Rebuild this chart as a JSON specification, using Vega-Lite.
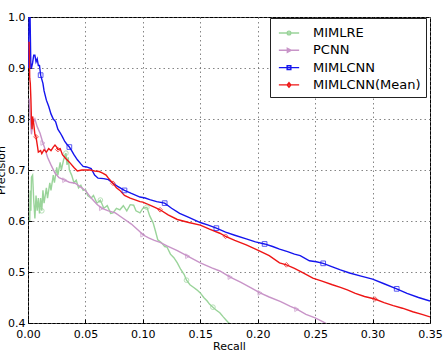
{
  "$schema": "https://vega.github.io/schema/vega-lite/v6.json",
  "width": 402,
  "height": 306,
  "autosize": "none",
  "padding": {"left": 28, "top": 17, "right": 15, "bottom": 31},
  "background": "white",
  "config": {
    "view": {"stroke": "black", "strokeWidth": 1},
    "font": "DejaVu Sans",
    "axis": {
      "labelFont": "DejaVu Sans",
      "titleFont": "DejaVu Sans",
      "labelFontSize": 11,
      "titleFontSize": 11,
      "labelColor": "black",
      "titleColor": "black",
      "titleFontWeight": "normal",
      "domain": false,
      "tickColor": "black",
      "tickSize": -4,
      "gridColor": "#666666",
      "gridDash": [1.5, 3],
      "gridWidth": 1,
      "gridOpacity": 0.8
    }
  },
  "datasets": {
    "curves": [
      {"s": "MIMLRE", "r": 0.0015, "p": 0.60},
      {"s": "MIMLRE", "r": 0.002, "p": 0.66},
      {"s": "MIMLRE", "r": 0.0025, "p": 0.62},
      {"s": "MIMLRE", "r": 0.003, "p": 0.686},
      {"s": "MIMLRE", "r": 0.004, "p": 0.69},
      {"s": "MIMLRE", "r": 0.005, "p": 0.64},
      {"s": "MIMLRE", "r": 0.006, "p": 0.605},
      {"s": "MIMLRE", "r": 0.007, "p": 0.65},
      {"s": "MIMLRE", "r": 0.008, "p": 0.62},
      {"s": "MIMLRE", "r": 0.009, "p": 0.645},
      {"s": "MIMLRE", "r": 0.010, "p": 0.615},
      {"s": "MIMLRE", "r": 0.011, "p": 0.645},
      {"s": "MIMLRE", "r": 0.012, "p": 0.62},
      {"s": "MIMLRE", "r": 0.013, "p": 0.66},
      {"s": "MIMLRE", "r": 0.014, "p": 0.635},
      {"s": "MIMLRE", "r": 0.016, "p": 0.665},
      {"s": "MIMLRE", "r": 0.017, "p": 0.645},
      {"s": "MIMLRE", "r": 0.019, "p": 0.675},
      {"s": "MIMLRE", "r": 0.020, "p": 0.66},
      {"s": "MIMLRE", "r": 0.022, "p": 0.69},
      {"s": "MIMLRE", "r": 0.023, "p": 0.675},
      {"s": "MIMLRE", "r": 0.025, "p": 0.705},
      {"s": "MIMLRE", "r": 0.026, "p": 0.69},
      {"s": "MIMLRE", "r": 0.028, "p": 0.715},
      {"s": "MIMLRE", "r": 0.029, "p": 0.70},
      {"s": "MIMLRE", "r": 0.031, "p": 0.72},
      {"s": "MIMLRE", "r": 0.033, "p": 0.733},
      {"s": "MIMLRE", "r": 0.034, "p": 0.71},
      {"s": "MIMLRE", "r": 0.035, "p": 0.725},
      {"s": "MIMLRE", "r": 0.036, "p": 0.70},
      {"s": "MIMLRE", "r": 0.038, "p": 0.69},
      {"s": "MIMLRE", "r": 0.040, "p": 0.675},
      {"s": "MIMLRE", "r": 0.042, "p": 0.68},
      {"s": "MIMLRE", "r": 0.044, "p": 0.665},
      {"s": "MIMLRE", "r": 0.046, "p": 0.67},
      {"s": "MIMLRE", "r": 0.048, "p": 0.66},
      {"s": "MIMLRE", "r": 0.050, "p": 0.662},
      {"s": "MIMLRE", "r": 0.052, "p": 0.65},
      {"s": "MIMLRE", "r": 0.055, "p": 0.645},
      {"s": "MIMLRE", "r": 0.057, "p": 0.65},
      {"s": "MIMLRE", "r": 0.060, "p": 0.635},
      {"s": "MIMLRE", "r": 0.063, "p": 0.641},
      {"s": "MIMLRE", "r": 0.066, "p": 0.625},
      {"s": "MIMLRE", "r": 0.069, "p": 0.63},
      {"s": "MIMLRE", "r": 0.072, "p": 0.615},
      {"s": "MIMLRE", "r": 0.074, "p": 0.616},
      {"s": "MIMLRE", "r": 0.077, "p": 0.625},
      {"s": "MIMLRE", "r": 0.080, "p": 0.622},
      {"s": "MIMLRE", "r": 0.083, "p": 0.63},
      {"s": "MIMLRE", "r": 0.086, "p": 0.62},
      {"s": "MIMLRE", "r": 0.089, "p": 0.632},
      {"s": "MIMLRE", "r": 0.092, "p": 0.631},
      {"s": "MIMLRE", "r": 0.094, "p": 0.62},
      {"s": "MIMLRE", "r": 0.0975, "p": 0.616},
      {"s": "MIMLRE", "r": 0.100, "p": 0.625},
      {"s": "MIMLRE", "r": 0.1035, "p": 0.627},
      {"s": "MIMLRE", "r": 0.106, "p": 0.61},
      {"s": "MIMLRE", "r": 0.109, "p": 0.596},
      {"s": "MIMLRE", "r": 0.111, "p": 0.58},
      {"s": "MIMLRE", "r": 0.113, "p": 0.563},
      {"s": "MIMLRE", "r": 0.116, "p": 0.558},
      {"s": "MIMLRE", "r": 0.119, "p": 0.55},
      {"s": "MIMLRE", "r": 0.121, "p": 0.549},
      {"s": "MIMLRE", "r": 0.124, "p": 0.535},
      {"s": "MIMLRE", "r": 0.127, "p": 0.528},
      {"s": "MIMLRE", "r": 0.130, "p": 0.518},
      {"s": "MIMLRE", "r": 0.133, "p": 0.505},
      {"s": "MIMLRE", "r": 0.136, "p": 0.495},
      {"s": "MIMLRE", "r": 0.138, "p": 0.484},
      {"s": "MIMLRE", "r": 0.141, "p": 0.475},
      {"s": "MIMLRE", "r": 0.144, "p": 0.47},
      {"s": "MIMLRE", "r": 0.147, "p": 0.465},
      {"s": "MIMLRE", "r": 0.150, "p": 0.459},
      {"s": "MIMLRE", "r": 0.153, "p": 0.45},
      {"s": "MIMLRE", "r": 0.156, "p": 0.443},
      {"s": "MIMLRE", "r": 0.158, "p": 0.437},
      {"s": "MIMLRE", "r": 0.161, "p": 0.431},
      {"s": "MIMLRE", "r": 0.164, "p": 0.425},
      {"s": "MIMLRE", "r": 0.167, "p": 0.42},
      {"s": "MIMLRE", "r": 0.170, "p": 0.412},
      {"s": "MIMLRE", "r": 0.172, "p": 0.407},
      {"s": "MIMLRE", "r": 0.174, "p": 0.402},
      {"s": "MIMLRE", "r": 0.176, "p": 0.398},

      {"s": "PCNN", "r": 0.001, "p": 0.84},
      {"s": "PCNN", "r": 0.002, "p": 0.80},
      {"s": "PCNN", "r": 0.003, "p": 0.77},
      {"s": "PCNN", "r": 0.004, "p": 0.79},
      {"s": "PCNN", "r": 0.006, "p": 0.80},
      {"s": "PCNN", "r": 0.008, "p": 0.785},
      {"s": "PCNN", "r": 0.0105, "p": 0.772},
      {"s": "PCNN", "r": 0.013, "p": 0.753},
      {"s": "PCNN", "r": 0.015, "p": 0.74},
      {"s": "PCNN", "r": 0.017, "p": 0.725},
      {"s": "PCNN", "r": 0.020, "p": 0.71},
      {"s": "PCNN", "r": 0.0235, "p": 0.694},
      {"s": "PCNN", "r": 0.027, "p": 0.685},
      {"s": "PCNN", "r": 0.032, "p": 0.68},
      {"s": "PCNN", "r": 0.036, "p": 0.676},
      {"s": "PCNN", "r": 0.041, "p": 0.674},
      {"s": "PCNN", "r": 0.045, "p": 0.668},
      {"s": "PCNN", "r": 0.050, "p": 0.66},
      {"s": "PCNN", "r": 0.055, "p": 0.645},
      {"s": "PCNN", "r": 0.060, "p": 0.633},
      {"s": "PCNN", "r": 0.064, "p": 0.625},
      {"s": "PCNN", "r": 0.070, "p": 0.62},
      {"s": "PCNN", "r": 0.076, "p": 0.616},
      {"s": "PCNN", "r": 0.083, "p": 0.605},
      {"s": "PCNN", "r": 0.090, "p": 0.594},
      {"s": "PCNN", "r": 0.097, "p": 0.58},
      {"s": "PCNN", "r": 0.100, "p": 0.573},
      {"s": "PCNN", "r": 0.105, "p": 0.567},
      {"s": "PCNN", "r": 0.110, "p": 0.562},
      {"s": "PCNN", "r": 0.115, "p": 0.558},
      {"s": "PCNN", "r": 0.121, "p": 0.551},
      {"s": "PCNN", "r": 0.130, "p": 0.542},
      {"s": "PCNN", "r": 0.139, "p": 0.531},
      {"s": "PCNN", "r": 0.150, "p": 0.518},
      {"s": "PCNN", "r": 0.160, "p": 0.508},
      {"s": "PCNN", "r": 0.167, "p": 0.502},
      {"s": "PCNN", "r": 0.176, "p": 0.49},
      {"s": "PCNN", "r": 0.185, "p": 0.48},
      {"s": "PCNN", "r": 0.195, "p": 0.468},
      {"s": "PCNN", "r": 0.202, "p": 0.459},
      {"s": "PCNN", "r": 0.210, "p": 0.451},
      {"s": "PCNN", "r": 0.220, "p": 0.442},
      {"s": "PCNN", "r": 0.228, "p": 0.433},
      {"s": "PCNN", "r": 0.234, "p": 0.427},
      {"s": "PCNN", "r": 0.242, "p": 0.417},
      {"s": "PCNN", "r": 0.250, "p": 0.41},
      {"s": "PCNN", "r": 0.257, "p": 0.402},
      {"s": "PCNN", "r": 0.262, "p": 0.396},

      {"s": "MIMLCNN", "r": 0.0003, "p": 0.90},
      {"s": "MIMLCNN", "r": 0.001, "p": 1.0},
      {"s": "MIMLCNN", "r": 0.0018, "p": 1.0},
      {"s": "MIMLCNN", "r": 0.0025, "p": 0.90},
      {"s": "MIMLCNN", "r": 0.003, "p": 0.90},
      {"s": "MIMLCNN", "r": 0.004, "p": 0.91},
      {"s": "MIMLCNN", "r": 0.005, "p": 0.925},
      {"s": "MIMLCNN", "r": 0.006, "p": 0.925},
      {"s": "MIMLCNN", "r": 0.007, "p": 0.912},
      {"s": "MIMLCNN", "r": 0.008, "p": 0.918},
      {"s": "MIMLCNN", "r": 0.009, "p": 0.905},
      {"s": "MIMLCNN", "r": 0.010, "p": 0.905},
      {"s": "MIMLCNN", "r": 0.011, "p": 0.886},
      {"s": "MIMLCNN", "r": 0.013, "p": 0.87},
      {"s": "MIMLCNN", "r": 0.014, "p": 0.855},
      {"s": "MIMLCNN", "r": 0.016, "p": 0.837},
      {"s": "MIMLCNN", "r": 0.018, "p": 0.825},
      {"s": "MIMLCNN", "r": 0.020, "p": 0.81},
      {"s": "MIMLCNN", "r": 0.022, "p": 0.80},
      {"s": "MIMLCNN", "r": 0.024, "p": 0.795},
      {"s": "MIMLCNN", "r": 0.026, "p": 0.78},
      {"s": "MIMLCNN", "r": 0.028, "p": 0.773},
      {"s": "MIMLCNN", "r": 0.030, "p": 0.765},
      {"s": "MIMLCNN", "r": 0.032, "p": 0.756},
      {"s": "MIMLCNN", "r": 0.034, "p": 0.75},
      {"s": "MIMLCNN", "r": 0.036, "p": 0.745},
      {"s": "MIMLCNN", "r": 0.038, "p": 0.738},
      {"s": "MIMLCNN", "r": 0.040, "p": 0.73},
      {"s": "MIMLCNN", "r": 0.043, "p": 0.72},
      {"s": "MIMLCNN", "r": 0.046, "p": 0.712},
      {"s": "MIMLCNN", "r": 0.048, "p": 0.707},
      {"s": "MIMLCNN", "r": 0.051, "p": 0.706},
      {"s": "MIMLCNN", "r": 0.055, "p": 0.703},
      {"s": "MIMLCNN", "r": 0.058, "p": 0.69},
      {"s": "MIMLCNN", "r": 0.061, "p": 0.684},
      {"s": "MIMLCNN", "r": 0.066, "p": 0.683},
      {"s": "MIMLCNN", "r": 0.070, "p": 0.681},
      {"s": "MIMLCNN", "r": 0.074, "p": 0.674},
      {"s": "MIMLCNN", "r": 0.078, "p": 0.668},
      {"s": "MIMLCNN", "r": 0.084, "p": 0.66},
      {"s": "MIMLCNN", "r": 0.090, "p": 0.654},
      {"s": "MIMLCNN", "r": 0.0975, "p": 0.647},
      {"s": "MIMLCNN", "r": 0.102, "p": 0.645},
      {"s": "MIMLCNN", "r": 0.106, "p": 0.642},
      {"s": "MIMLCNN", "r": 0.112, "p": 0.638},
      {"s": "MIMLCNN", "r": 0.119, "p": 0.635},
      {"s": "MIMLCNN", "r": 0.125, "p": 0.625},
      {"s": "MIMLCNN", "r": 0.132, "p": 0.615},
      {"s": "MIMLCNN", "r": 0.140, "p": 0.607},
      {"s": "MIMLCNN", "r": 0.150, "p": 0.597},
      {"s": "MIMLCNN", "r": 0.157, "p": 0.592},
      {"s": "MIMLCNN", "r": 0.164, "p": 0.586},
      {"s": "MIMLCNN", "r": 0.172, "p": 0.578},
      {"s": "MIMLCNN", "r": 0.180, "p": 0.572},
      {"s": "MIMLCNN", "r": 0.190, "p": 0.565},
      {"s": "MIMLCNN", "r": 0.198, "p": 0.559},
      {"s": "MIMLCNN", "r": 0.206, "p": 0.555},
      {"s": "MIMLCNN", "r": 0.213, "p": 0.55},
      {"s": "MIMLCNN", "r": 0.219, "p": 0.545},
      {"s": "MIMLCNN", "r": 0.226, "p": 0.54},
      {"s": "MIMLCNN", "r": 0.232, "p": 0.535},
      {"s": "MIMLCNN", "r": 0.237, "p": 0.532},
      {"s": "MIMLCNN", "r": 0.245, "p": 0.522},
      {"s": "MIMLCNN", "r": 0.251, "p": 0.52},
      {"s": "MIMLCNN", "r": 0.257, "p": 0.517},
      {"s": "MIMLCNN", "r": 0.265, "p": 0.51},
      {"s": "MIMLCNN", "r": 0.272, "p": 0.504},
      {"s": "MIMLCNN", "r": 0.280, "p": 0.498},
      {"s": "MIMLCNN", "r": 0.290, "p": 0.492},
      {"s": "MIMLCNN", "r": 0.300, "p": 0.486},
      {"s": "MIMLCNN", "r": 0.310, "p": 0.477},
      {"s": "MIMLCNN", "r": 0.321, "p": 0.467},
      {"s": "MIMLCNN", "r": 0.330, "p": 0.458},
      {"s": "MIMLCNN", "r": 0.340, "p": 0.45},
      {"s": "MIMLCNN", "r": 0.350, "p": 0.443},

      {"s": "MIMLCNN(Mean)", "r": 0.0003, "p": 0.95},
      {"s": "MIMLCNN(Mean)", "r": 0.001, "p": 0.95},
      {"s": "MIMLCNN(Mean)", "r": 0.0015, "p": 0.88},
      {"s": "MIMLCNN(Mean)", "r": 0.002, "p": 0.87},
      {"s": "MIMLCNN(Mean)", "r": 0.0025, "p": 0.84},
      {"s": "MIMLCNN(Mean)", "r": 0.003, "p": 0.80},
      {"s": "MIMLCNN(Mean)", "r": 0.0035, "p": 0.78},
      {"s": "MIMLCNN(Mean)", "r": 0.004, "p": 0.805},
      {"s": "MIMLCNN(Mean)", "r": 0.005, "p": 0.79},
      {"s": "MIMLCNN(Mean)", "r": 0.006, "p": 0.77},
      {"s": "MIMLCNN(Mean)", "r": 0.007, "p": 0.765},
      {"s": "MIMLCNN(Mean)", "r": 0.008, "p": 0.75},
      {"s": "MIMLCNN(Mean)", "r": 0.009, "p": 0.735},
      {"s": "MIMLCNN(Mean)", "r": 0.011, "p": 0.738},
      {"s": "MIMLCNN(Mean)", "r": 0.012, "p": 0.732},
      {"s": "MIMLCNN(Mean)", "r": 0.014, "p": 0.74},
      {"s": "MIMLCNN(Mean)", "r": 0.016, "p": 0.735},
      {"s": "MIMLCNN(Mean)", "r": 0.018, "p": 0.742},
      {"s": "MIMLCNN(Mean)", "r": 0.020, "p": 0.738},
      {"s": "MIMLCNN(Mean)", "r": 0.022, "p": 0.745},
      {"s": "MIMLCNN(Mean)", "r": 0.0235, "p": 0.749},
      {"s": "MIMLCNN(Mean)", "r": 0.025, "p": 0.745},
      {"s": "MIMLCNN(Mean)", "r": 0.026, "p": 0.74},
      {"s": "MIMLCNN(Mean)", "r": 0.028, "p": 0.742},
      {"s": "MIMLCNN(Mean)", "r": 0.030, "p": 0.73},
      {"s": "MIMLCNN(Mean)", "r": 0.033, "p": 0.722},
      {"s": "MIMLCNN(Mean)", "r": 0.0366, "p": 0.714},
      {"s": "MIMLCNN(Mean)", "r": 0.040, "p": 0.705},
      {"s": "MIMLCNN(Mean)", "r": 0.043, "p": 0.698},
      {"s": "MIMLCNN(Mean)", "r": 0.047, "p": 0.70},
      {"s": "MIMLCNN(Mean)", "r": 0.050, "p": 0.70},
      {"s": "MIMLCNN(Mean)", "r": 0.054, "p": 0.70},
      {"s": "MIMLCNN(Mean)", "r": 0.058, "p": 0.698},
      {"s": "MIMLCNN(Mean)", "r": 0.062, "p": 0.697},
      {"s": "MIMLCNN(Mean)", "r": 0.065, "p": 0.694},
      {"s": "MIMLCNN(Mean)", "r": 0.068, "p": 0.69},
      {"s": "MIMLCNN(Mean)", "r": 0.070, "p": 0.684},
      {"s": "MIMLCNN(Mean)", "r": 0.074, "p": 0.674},
      {"s": "MIMLCNN(Mean)", "r": 0.077, "p": 0.665},
      {"s": "MIMLCNN(Mean)", "r": 0.080, "p": 0.66},
      {"s": "MIMLCNN(Mean)", "r": 0.084, "p": 0.65},
      {"s": "MIMLCNN(Mean)", "r": 0.089, "p": 0.645},
      {"s": "MIMLCNN(Mean)", "r": 0.0975, "p": 0.638},
      {"s": "MIMLCNN(Mean)", "r": 0.100, "p": 0.637},
      {"s": "MIMLCNN(Mean)", "r": 0.105, "p": 0.632},
      {"s": "MIMLCNN(Mean)", "r": 0.110, "p": 0.627},
      {"s": "MIMLCNN(Mean)", "r": 0.115, "p": 0.622},
      {"s": "MIMLCNN(Mean)", "r": 0.122, "p": 0.612},
      {"s": "MIMLCNN(Mean)", "r": 0.130, "p": 0.603},
      {"s": "MIMLCNN(Mean)", "r": 0.140, "p": 0.597},
      {"s": "MIMLCNN(Mean)", "r": 0.150, "p": 0.592},
      {"s": "MIMLCNN(Mean)", "r": 0.158, "p": 0.584},
      {"s": "MIMLCNN(Mean)", "r": 0.167, "p": 0.576},
      {"s": "MIMLCNN(Mean)", "r": 0.172, "p": 0.57},
      {"s": "MIMLCNN(Mean)", "r": 0.180, "p": 0.562},
      {"s": "MIMLCNN(Mean)", "r": 0.190, "p": 0.553},
      {"s": "MIMLCNN(Mean)", "r": 0.200, "p": 0.543},
      {"s": "MIMLCNN(Mean)", "r": 0.210, "p": 0.532},
      {"s": "MIMLCNN(Mean)", "r": 0.219, "p": 0.518},
      {"s": "MIMLCNN(Mean)", "r": 0.225, "p": 0.514},
      {"s": "MIMLCNN(Mean)", "r": 0.232, "p": 0.507},
      {"s": "MIMLCNN(Mean)", "r": 0.240, "p": 0.498},
      {"s": "MIMLCNN(Mean)", "r": 0.248, "p": 0.488},
      {"s": "MIMLCNN(Mean)", "r": 0.256, "p": 0.482},
      {"s": "MIMLCNN(Mean)", "r": 0.265, "p": 0.475},
      {"s": "MIMLCNN(Mean)", "r": 0.272, "p": 0.47},
      {"s": "MIMLCNN(Mean)", "r": 0.278, "p": 0.465},
      {"s": "MIMLCNN(Mean)", "r": 0.285, "p": 0.458},
      {"s": "MIMLCNN(Mean)", "r": 0.293, "p": 0.452},
      {"s": "MIMLCNN(Mean)", "r": 0.302, "p": 0.447},
      {"s": "MIMLCNN(Mean)", "r": 0.310, "p": 0.44},
      {"s": "MIMLCNN(Mean)", "r": 0.318, "p": 0.434},
      {"s": "MIMLCNN(Mean)", "r": 0.326, "p": 0.429},
      {"s": "MIMLCNN(Mean)", "r": 0.335, "p": 0.422},
      {"s": "MIMLCNN(Mean)", "r": 0.343, "p": 0.417},
      {"s": "MIMLCNN(Mean)", "r": 0.350, "p": 0.412}
    ],
    "markers": [
      {"m": "MIMLRE", "r": 0.012, "p": 0.62},
      {"m": "MIMLRE", "r": 0.033, "p": 0.733},
      {"m": "MIMLRE", "r": 0.063, "p": 0.641},
      {"m": "MIMLRE", "r": 0.1035, "p": 0.627},
      {"m": "MIMLRE", "r": 0.138, "p": 0.484},
      {"m": "MIMLRE", "r": 0.161, "p": 0.431},
      {"m": "PCNN", "r": 0.013, "p": 0.753},
      {"m": "PCNN", "r": 0.032, "p": 0.68},
      {"m": "PCNN", "r": 0.064, "p": 0.625},
      {"m": "PCNN", "r": 0.100, "p": 0.573},
      {"m": "PCNN", "r": 0.139, "p": 0.531},
      {"m": "PCNN", "r": 0.176, "p": 0.49},
      {"m": "PCNN", "r": 0.202, "p": 0.459},
      {"m": "PCNN", "r": 0.234, "p": 0.427},
      {"m": "MIMLCNN", "r": 0.011, "p": 0.886},
      {"m": "MIMLCNN", "r": 0.036, "p": 0.745},
      {"m": "MIMLCNN", "r": 0.084, "p": 0.66},
      {"m": "MIMLCNN", "r": 0.119, "p": 0.635},
      {"m": "MIMLCNN", "r": 0.164, "p": 0.586},
      {"m": "MIMLCNN", "r": 0.206, "p": 0.555},
      {"m": "MIMLCNN", "r": 0.257, "p": 0.517},
      {"m": "MIMLCNN", "r": 0.321, "p": 0.467},
      {"m": "MIMLCNN(Mean)", "r": 0.007, "p": 0.765},
      {"m": "MIMLCNN(Mean)", "r": 0.026, "p": 0.74},
      {"m": "MIMLCNN(Mean)", "r": 0.074, "p": 0.674},
      {"m": "MIMLCNN(Mean)", "r": 0.115, "p": 0.622},
      {"m": "MIMLCNN(Mean)", "r": 0.172, "p": 0.57},
      {"m": "MIMLCNN(Mean)", "r": 0.225, "p": 0.514},
      {"m": "MIMLCNN(Mean)", "r": 0.302, "p": 0.447}
    ]
  },
  "layer": [
    {
      "data": {"name": "curves"},
      "mark": {"type": "line", "strokeWidth": 1.4, "clip": true, "interpolate": "linear"},
      "encoding": {
        "x": {
          "field": "r", "type": "quantitative",
          "scale": {"domain": [0, 0.35], "nice": false, "zero": false},
          "axis": {
            "title": "Recall",
            "values": [0, 0.05, 0.1, 0.15, 0.2, 0.25, 0.3, 0.35],
            "format": ".2f",
            "labelPadding": 9,
            "titlePadding": 1,
            "labelFlush": false
          }
        },
        "y": {
          "field": "p", "type": "quantitative",
          "scale": {"domain": [0.4, 1.0], "nice": false, "zero": false},
          "axis": {
            "title": "Precision",
            "values": [0.4, 0.5, 0.6, 0.7, 0.8, 0.9, 1.0],
            "format": ".1f",
            "labelPadding": 7,
            "titleX": -24,
            "titleY": 153,
            "titleAngle": -90,
            "titleBaseline": "alphabetic",
            "titleAlign": "center",
            "labelFlush": false
          }
        },
        "color": {
          "field": "s", "type": "nominal",
          "scale": {
            "domain": ["MIMLRE", "PCNN", "MIMLCNN", "MIMLCNN(Mean)"],
            "range": ["#9ad49a", "#c894c8", "#1515ee", "#ee1515"]
          },
          "legend": {
            "title": null,
            "orient": "none",
            "legendX": 242,
            "legendY": 1,
            "padding": 5,
            "strokeColor": "#222222",
            "fillColor": "white",
            "labelFont": "DejaVu Sans",
            "labelFontSize": 13,
            "labelColor": "black",
            "labelOffset": 14,
            "symbolSize": 340,
            "symbolOffset": 4,
            "symbolStrokeWidth": 1.4,
            "symbolFillColor": "transparent",
            "rowPadding": 0.3,
            "encode": {
              "symbols": {
                "update": {
                  "shape": {"signal": "datum.value === 'MIMLRE' ? 'M-1.1,0H1.1M0.2,0A0.2,0.2 0 1,1 -0.2,0A0.2,0.2 0 1,1 0.2,0' : datum.value === 'PCNN' ? 'M-1.1,0H1.1M-0.18,-0.22L0.24,0L-0.18,0.22Z' : datum.value === 'MIMLCNN' ? 'M-1.1,0H1.1M-0.2,-0.2H0.2V0.2H-0.2Z' : 'M-1.1,0H1.1M0,-0.24L0.2,0L0,0.24L-0.2,0Z'"},
                  "fill": {"value": "transparent"}
                }
              }
            }
          }
        }
      }
    },
    {
      "data": {"name": "markers"},
      "transform": [{"filter": "datum.m === 'MIMLRE'"}],
      "mark": {"type": "point", "shape": "circle", "filled": false, "size": 22, "strokeWidth": 1, "clip": true, "stroke": "#9ad49a"},
      "encoding": {
        "x": {"field": "r", "type": "quantitative"},
        "y": {"field": "p", "type": "quantitative"}
      }
    },
    {
      "data": {"name": "markers"},
      "transform": [{"filter": "datum.m === 'PCNN'"}],
      "mark": {"type": "point", "shape": "triangle-right", "filled": false, "size": 22, "strokeWidth": 1, "clip": true, "stroke": "#c894c8"},
      "encoding": {
        "x": {"field": "r", "type": "quantitative"},
        "y": {"field": "p", "type": "quantitative"}
      }
    },
    {
      "data": {"name": "markers"},
      "transform": [{"filter": "datum.m === 'MIMLCNN'"}],
      "mark": {"type": "point", "shape": "square", "filled": false, "size": 22, "strokeWidth": 1, "clip": true, "stroke": "#1515ee"},
      "encoding": {
        "x": {"field": "r", "type": "quantitative"},
        "y": {"field": "p", "type": "quantitative"}
      }
    },
    {
      "data": {"name": "markers"},
      "transform": [{"filter": "datum.m === 'MIMLCNN(Mean)'"}],
      "mark": {"type": "point", "shape": "diamond", "filled": false, "size": 22, "strokeWidth": 1, "clip": true, "stroke": "#ee1515"},
      "encoding": {
        "x": {"field": "r", "type": "quantitative"},
        "y": {"field": "p", "type": "quantitative"}
      }
    }
  ]
}
